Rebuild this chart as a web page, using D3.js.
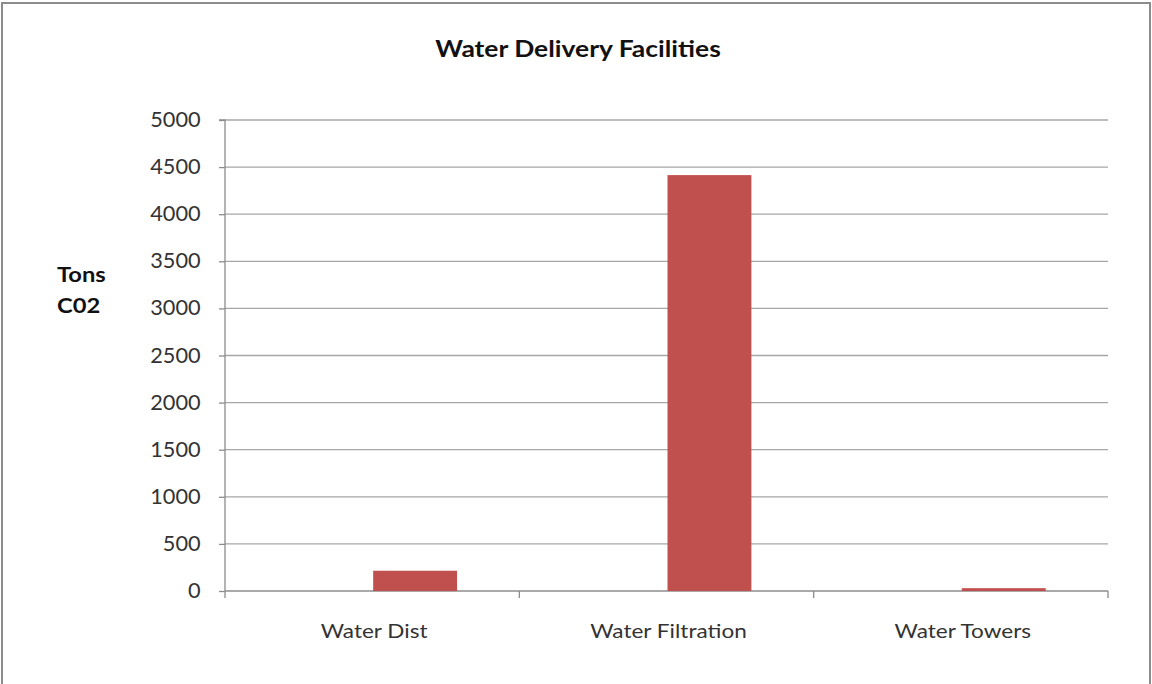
<!DOCTYPE html>
<html><head><meta charset="utf-8">
<script src="https://cdn.jsdelivr.net/npm/d3@7"></script>
<style>body{margin:0;background:#fff}svg{display:block}</style>
</head><body>
<script>
const categories = ["Water Dist", "Water Filtration", "Water Towers"];
const values = [215, 4415, 30];
const yTicks = [0, 500, 1000, 1500, 2000, 2500, 3000, 3500, 4000, 4500, 5000];
const title = "Water Delivery Facilities";
const yTitle = ["Tons", "C02"];

(function () {
const W = 1152, H = 684;
const font = "Lato, 'Open Sans', sans-serif";
const svg = d3.select("body").append("svg").attr("width", W).attr("height", H);
svg.append("rect").attr("x", 2).attr("y", 3).attr("width", W - 4).attr("height", H + 10)
  .attr("fill", "#fff").attr("stroke", "#8c8c8c").attr("stroke-width", 2);

const pL = 225, pR = 1108, pT = 120, pB = 591;
const x = d3.scaleBand().domain(categories).range([pL, pR]);
const y = d3.scaleLinear().domain([0, 5000]).range([pB, pT]);

// gridlines
svg.append("g").selectAll("line").data(yTicks.filter(d => d > 0)).join("line")
  .attr("x1", pL).attr("x2", pR).attr("y1", d => y(d)).attr("y2", d => y(d))
  .attr("stroke", "#a6a6a6").attr("stroke-width", 1.3);

// y axis
const ya = svg.append("g").attr("transform", `translate(${pL},0)`)
  .call(d3.axisLeft(y).tickValues(yTicks).tickSize(6).tickPadding(17).tickFormat(d3.format("d")));
ya.select(".domain").attr("stroke", "#8c8c8c").attr("stroke-width", 1.3).attr("d", `M-6,${pT}H0V${pB}`);
ya.selectAll(".tick line").attr("stroke", "#8c8c8c").attr("stroke-width", 1.3);
ya.selectAll("text").attr("font-family", font).attr("font-size", 20.5).attr("fill", "#333")
  .attr("transform", "scale(1.06,1)");

// x axis
const xa = svg.append("g").attr("transform", `translate(0,${pB})`);
xa.append("line").attr("x1", pL).attr("x2", pR).attr("stroke", "#8c8c8c").attr("stroke-width", 1.3);
const bounds = categories.map(c => x(c)).concat([pR]);
xa.selectAll(".tk").data(bounds).join("line").attr("class", "tk")
  .attr("x1", d => d).attr("x2", d => d).attr("y1", 0).attr("y2", 7)
  .attr("stroke", "#8c8c8c").attr("stroke-width", 1.3);
xa.selectAll("text").data(categories).join("text")
  .attr("transform", d => `translate(${x(d) + x.bandwidth() / 2 + 2},47) scale(1.22,1)`)
  .attr("text-anchor", "middle").attr("font-family", font).attr("font-size", 18.5).attr("fill", "#333")
  .text(d => d);

// bars (second slot of a two-series cluster)
const bw = x.bandwidth() * 0.285;
svg.append("g").selectAll("rect").data(categories).join("rect")
  .attr("x", d => x(d) + x.bandwidth() / 2 + 1)
  .attr("y", (d, i) => y(values[i]))
  .attr("width", bw)
  .attr("height", (d, i) => y(0) - y(values[i]))
  .attr("fill", "#c0504d");

// title
svg.append("text").attr("transform", "translate(578,56.5) scale(1.15,1)").attr("text-anchor", "middle")
  .attr("font-family", font).attr("font-weight", "bold").attr("font-size", 23).attr("fill", "#111")
  .text(title);

// y title
svg.append("g").selectAll("text").data(yTitle).join("text")
  .attr("transform", (d, i) => `translate(57,${282 + i * 31}) scale(1.13,1)`)
  .attr("font-family", font).attr("font-weight", "bold").attr("font-size", 21).attr("fill", "#111")
  .text(d => d);
})();
</script>
</body></html>
